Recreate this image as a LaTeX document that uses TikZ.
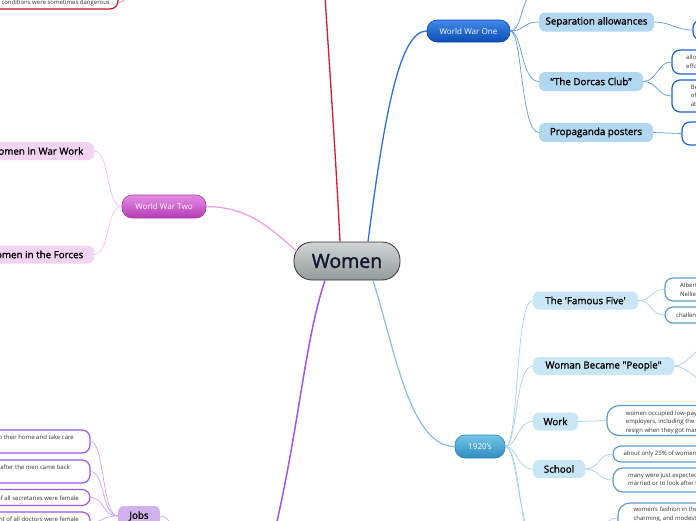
\documentclass[tikz,border=0pt]{standalone}
\usepackage{fontspec}
\setmainfont{Open Sans}
\newfontfamily\medfont[FakeBold=1.3]{Open Sans}
\newfontfamily\bigfont[FakeBold=1.6]{Open Sans}
\usetikzlibrary{calc}
\definecolor{redline}{HTML}{D31A3C}
\definecolor{redleaf}{HTML}{C8102E}
\definecolor{redconn}{HTML}{E57A90}
\definecolor{blueline}{HTML}{2A70E0}
\definecolor{bluetop}{HTML}{4189EA}
\definecolor{bluebot}{HTML}{0C4CB4}
\definecolor{blueborder}{HTML}{0A48AA}
\definecolor{blueleaf}{HTML}{1763DC}
\definecolor{bluesub}{HTML}{B2D7F0}
\definecolor{blueconn}{HTML}{5B98E6}
\definecolor{pinkline}{HTML}{F09AE6}
\definecolor{pinktop}{HTML}{E68CE6}
\definecolor{pinkbot}{HTML}{B43CB4}
\definecolor{pinkborder}{HTML}{A83AA8}
\definecolor{pinksub}{HTML}{F3D4F3}
\definecolor{pinkconn}{HTML}{F5BDF0}
\definecolor{purpline}{HTML}{A452F2}
\definecolor{purpsub}{HTML}{D2B2EC}
\definecolor{purpleaf}{HTML}{9C58E8}
\definecolor{purpconn}{HTML}{CCA5F2}
\definecolor{lbline}{HTML}{86C0E0}
\definecolor{lbtop}{HTML}{74C5E8}
\definecolor{lbbot}{HTML}{2F8DBF}
\definecolor{lbborder}{HTML}{2A84B4}
\definecolor{lbsub}{HTML}{C8E6F5}
\definecolor{lbleaf}{HTML}{5D9CC9}
\definecolor{lbconn}{HTML}{A9D1EA}
\definecolor{womentop}{HTML}{D0D4D4}
\definecolor{womenbot}{HTML}{959A9A}
\definecolor{womentext}{HTML}{101830}
\begin{document}
\begin{tikzpicture}[x=1pt,y=-1pt,
  conn/.style={line width=0.7pt},
  leafbox/.style={draw, line width=1.2pt, fill=white, rounded corners=8pt, inner sep=0pt},
  subbox/.style={rounded corners=6pt, inner sep=0pt, font=\medfont\fontsize{9.8}{11}\selectfont, text=black},
  mainbox/.style={rounded corners=10pt, inner sep=0pt, draw, line width=0.6pt, font=\fontsize{8.1}{9}\selectfont, text=white},
  lt/.style={inner sep=0pt, font=\fontsize{6}{8.5}\selectfont, text=black!80, align=left},
  ltr/.style={inner sep=0pt, font=\fontsize{6}{8.5}\selectfont, text=black!80, align=right},
  subtext/.style={inner sep=0pt, font=\medfont\fontsize{9.8}{11}\selectfont, text=black}
]
\path[use as bounding box] (0,0) rectangle (696,520);
\clip (0,0) rectangle (696,520);

% ---------- central ----------
\node[rounded corners=18pt, draw=black!80, line width=0.8pt, top color=womentop, bottom color=womenbot,
      minimum width=106pt, minimum height=38pt, inner sep=0pt, text=womentext,
      font=\bigfont\fontsize{19.5}{22}\selectfont] (women) at (347,261) {Women};

% ---------- red branch ----------
\coordinate (redend) at (325,-4);
\draw[redline, line width=1.3pt] ($(women.north)+(-7,0)$) .. controls (336,160) and (329,60) .. (redend);
\node[leafbox, draw=redleaf, minimum width=218pt, minimum height=29pt] (redbox) at (9,-5.5) {};
\node[ltr, anchor=east] (redtext) at (110,2.7) {work where conditions were sometimes dangerous};
\coordinate (redtop) at (128,-4);
\draw[redconn, conn] ($(redbox.east)+(0,8)$) .. controls +(4,0) and +(-3,3) .. (redtop);

% ---------- World War One ----------
\node[mainbox, top color=bluetop, bottom color=bluebot, draw=blueborder, minimum width=83pt, minimum height=22pt] (ww1) at (468.5,31) {World War One};
\draw[blueline, line width=1.3pt] ($(women.north)+(21,0)$) .. controls (385,110) and (400,31) .. (ww1.west);

\node[subbox, fill=bluesub, minimum width=115pt, minimum height=19pt] (sep) at (596.5,22) {Separation allowances};
\node[subbox, fill=bluesub, minimum width=104pt, minimum height=19pt] (dorcas) at (591,81.5) {“The Dorcas Club”};
\node[subbox, fill=bluesub, minimum width=114pt, minimum height=19pt] (prop) at (596,132.5) {Propaganda posters};
\coordinate (ww1top) at (529,-5);
\draw[blueconn, conn] (ww1.east) .. controls +(10,0) and (520,10) .. (ww1top);
\draw[blueconn, conn] (ww1.east) .. controls +(14,0) and +(-16,0) .. (sep.west);
\draw[blueconn, conn] (ww1.east) .. controls +(12,0) and +(-18,0) .. (dorcas.west);
\draw[blueconn, conn] (ww1.east) .. controls +(12,0) and +(-18,0) .. (prop.west);

\node[leafbox, draw=blueleaf, minimum width=60pt, minimum height=20pt] (sepleaf) at (723,30) {};
\node[leafbox, draw=blueleaf, minimum width=80pt, minimum height=24pt] (dorleafa) at (712,62) {};
\node[leafbox, draw=blueleaf, minimum width=80pt, minimum height=32pt] (dorleafb) at (712,96) {};
\node[leafbox, draw=blueleaf, minimum width=80pt, minimum height=23pt] (propleaf) at (722,133.5) {};
\node[lt, anchor=west] (dortxa) at (686,61.6) {allowed women to help\\effort};
\node[lt, anchor=west] (dortxb) at (690.7,95.8) {Began as a\\of women\\at a church};
\draw[blueconn, conn] (sep.east) .. controls +(16,0) and +(-16,0) .. (sepleaf.west);
\draw[blueconn, conn] (dorcas.east) .. controls +(14,0) and +(-14,0) .. (dorleafa.west);
\draw[blueconn, conn] (dorcas.east) .. controls +(14,0) and +(-14,0) .. (dorleafb.west);
\draw[blueconn, conn] (prop.east) .. controls +(14,0) and +(-14,0) .. (propleaf.west);

% ---------- World War Two ----------
\node[mainbox, top color=pinktop, bottom color=pinkbot, draw=pinkborder, minimum width=84pt, minimum height=23pt] (ww2) at (164,206.5) {World War Two};
\draw[pinkline, line width=1.2pt] (ww2.east) .. controls (250,207) and (272,230) .. ($(women.west)+(3,-10)$);
\node[subbox, fill=pinksub, minimum width=150pt, minimum height=18pt] (warwork) at (19,151) {};
\node[subbox, fill=pinksub, minimum width=150pt, minimum height=18pt] (forces) at (19,254.5) {};
\node[subtext, anchor=east] (warworktx) at (83.5,151) {Women in War Work};
\node[subtext, anchor=east] (forcestx) at (83.5,254.5) {Women in the Forces};
\draw[pinkconn, conn] (ww2.west) .. controls +(-16,0) and +(16,0) .. (warwork.east);
\draw[pinkconn, conn] (ww2.west) .. controls +(-16,0) and +(16,0) .. (forces.east);

% ---------- Jobs (purple) ----------
\coordinate (purpend) at (276,526);
\draw[purpline, line width=1.5pt] ($(women.south)+(-22,0)$) .. controls (305,340) and (300,420) .. (purpend);
\node[subbox, fill=purpsub, minimum width=42pt, minimum height=20pt] (jobs) at (139,516) {Jobs};
\node[leafbox, draw=purpleaf, minimum width=150pt, minimum height=23pt] (joba) at (15,441.5) {};
\node[leafbox, draw=purpleaf, minimum width=150pt, minimum height=23pt] (jobb) at (15,471.5) {};
\node[leafbox, draw=purpleaf, minimum width=150pt, minimum height=16pt] (jobc) at (15,497.5) {};
\node[leafbox, draw=purpleaf, minimum width=150pt, minimum height=20pt] (jobd) at (15,522) {};
\node[ltr, anchor=east] (jobatx) at (74,437.5) {women were expected to return to their home and take care};
\node[ltr, anchor=east] (jobbtx) at (70,467.7) {many women lost their jobs after the men came back};
\node[ltr, anchor=east] (jobctx) at (79,498) {95\% of all secretaries were female};
\node[ltr, anchor=east] (jobdtx) at (79,519.5) {less than 5 percent of all doctors were female};
\draw[purpconn, conn] (jobs.west) .. controls +(-16,0) and +(14,0) .. (joba.east);
\draw[purpconn, conn] (jobs.west) .. controls +(-16,0) and +(14,0) .. (jobb.east);
\draw[purpconn, conn] (jobs.west) .. controls +(-16,0) and +(14,0) .. (jobc.east);
\draw[purpconn, conn] (jobs.west) .. controls +(-16,0) and +(14,0) .. (jobd.east);
\coordinate (jobsout) at (176,530);
\draw[purpconn, conn] (jobs.east) .. controls +(8,0) and +(-6,-6) .. (jobsout);

% ---------- 1920's (light blue) ----------
\node[mainbox, top color=lbtop, bottom color=lbbot, draw=lbborder, minimum width=50pt, minimum height=23pt] (y1920) at (480,446.5) {1920\symbol{39}s};
\draw[lbline, line width=1.2pt] ($(women.south)+(26,0)$) .. controls (395,350) and (410,446.5) .. (y1920.west);

\node[subbox, fill=lbsub, minimum width=105pt, minimum height=18pt] (five) at (585.5,300.5) {The \symbol{39}Famous Five\symbol{39}};
\node[subbox, fill=lbsub, minimum width=141pt, minimum height=18pt] (people) at (603.5,366) {Woman Became \symbol{34}People\symbol{34}};
\node[subbox, fill=lbsub, minimum width=45pt, minimum height=18pt] (work) at (555.5,421.5) {Work};
\node[subbox, fill=lbsub, minimum width=52pt, minimum height=18pt] (school) at (559,469) {School};
\coordinate (lbdowna) at (540,560);
\coordinate (lbdownb) at (545,620);
\draw[lbconn, conn] (y1920.east) .. controls +(14,0) and +(-18,0) .. (five.west);
\draw[lbconn, conn] (y1920.east) .. controls +(12,0) and +(-18,0) .. (people.west);
\draw[lbconn, conn] (y1920.east) .. controls +(12,0) and +(-16,0) .. (work.west);
\draw[lbconn, conn] (y1920.east) .. controls +(12,0) and +(-16,0) .. (school.west);
\draw[lbconn, conn] (y1920.east) .. controls +(12,0) and (516,520) .. (lbdowna);
\draw[lbconn, conn] (y1920.east) .. controls +(15,0) and (519,540) .. (lbdownb);

\node[leafbox, draw=lbleaf, minimum width=70pt, minimum height=23pt] (fivea) at (700,289.5) {};
\node[leafbox, draw=lbleaf, minimum width=70pt, minimum height=16pt] (fiveb) at (700,315) {};
\node[lt, anchor=west] (fiveatx) at (680,289.6) {Albert\\Nellie};
\node[lt, anchor=west] (fivebtx) at (676,315.7) {challenged};
\draw[lbconn, conn] (five.east) .. controls +(14,0) and +(-14,0) .. (fivea.west);
\draw[lbconn, conn] (five.east) .. controls +(14,0) and +(-14,0) .. (fiveb.west);
\coordinate (peoplea) at (706,342);
\coordinate (peopleb) at (706,386);
\draw[lbconn, conn] (people.east) .. controls +(12,0) and +(-6,4) .. (peoplea);
\draw[lbconn, conn] (people.east) .. controls +(12,0) and +(-6,-4) .. (peopleb);

\node[leafbox, rounded corners=12pt, draw=lbleaf, minimum width=120pt, minimum height=30pt] (workleaf) at (667,420.5) {};
\node[lt, anchor=west] (worktx) at (625.7,422) {women occupied low-paying jobs,\\employers, including the government,\\resign when they got married};
\draw[lbconn, conn] (work.east) -- (workleaf.west);

\node[leafbox, draw=lbleaf, minimum width=120pt, minimum height=16pt] (schoola) at (673,454) {};
\node[leafbox, rounded corners=10pt, draw=lbleaf, minimum width=120pt, minimum height=24pt] (schoolb) at (673,480) {};
\node[lt, anchor=west] (schoolatx) at (623.3,454.3) {about only 25\% of women};
\node[lt, anchor=west] (schoolbtx) at (628,479.2) {many were just expected\\married or to look after their};
\draw[lbconn, conn] (school.east) .. controls +(14,0) and +(-14,0) .. (schoola.west);
\draw[lbconn, conn] (school.east) .. controls +(14,0) and +(-14,0) .. (schoolb.west);

\node[leafbox, rounded corners=12pt, draw=lbleaf, minimum width=120pt, minimum height=30pt] (fashion) at (678,518) {};
\node[lt, anchor=west] (fashiontx) at (633.3,514.5) {women's fashion in the\\charming, and modest};
\coordinate (fashionin) at (592,530);
\draw[lbconn, conn] (fashionin) .. controls +(14,0) and +(-12,0) .. (fashion.west);
\end{tikzpicture}
\end{document}
